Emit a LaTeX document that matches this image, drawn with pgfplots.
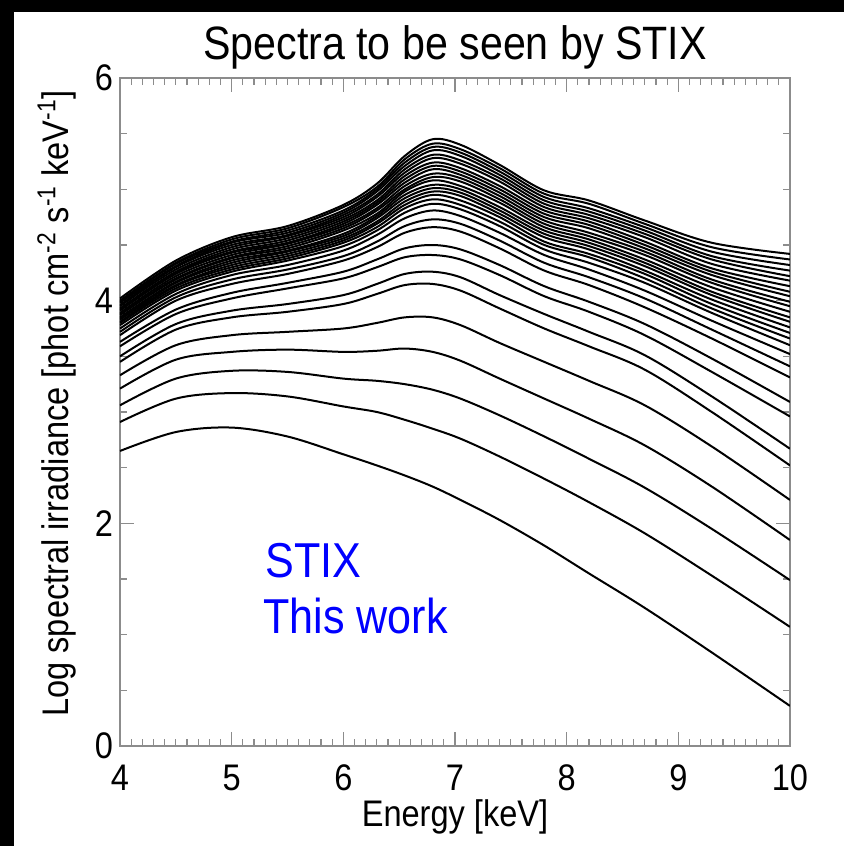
\documentclass[border=0pt]{standalone}
\usepackage{fontspec}
\setmainfont{Liberation Sans}[FakeStretch=0.88]
\usepackage{pgfplots}
\pgfplotsset{compat=1.18}
\usepackage{pgfplotstable}
\usetikzlibrary{backgrounds}

\pgfplotstableread{
x c1 c2 c3 c4 c5 c6 c7 c8 c9 c10 c11 c12 c13 c14 c15 c16 c17 c18 c19 c20 c21 c22 c23 c24 c25 c26 c27 c28 c29 c30
4    2.65 2.91 3.06 3.21 3.33 3.45 3.50 3.59 3.63 3.69 3.72 3.75 3.78 3.80 3.81 3.83 3.84 3.85 3.87 3.88 3.89 3.91 3.92 3.93 3.95 3.96 3.98 3.99 4.00 4.02
4.5  2.82 3.12 3.30 3.47 3.60 3.74 3.79 3.88 3.92 4.00 4.03 4.06 4.09 4.11 4.13 4.14 4.16 4.17 4.19 4.20 4.22 4.24 4.25 4.26 4.28 4.30 4.31 4.33 4.34 4.36
5    2.86 3.17 3.37 3.54 3.69 3.85 3.91 4.02 4.07 4.15 4.19 4.23 4.26 4.28 4.30 4.32 4.34 4.36 4.38 4.39 4.41 4.43 4.44 4.46 4.48 4.50 4.52 4.53 4.55 4.57
5.5  2.78 3.14 3.36 3.56 3.72 3.90 3.97 4.11 4.16 4.24 4.28 4.32 4.36 4.38 4.40 4.42 4.44 4.45 4.47 4.49 4.51 4.52 4.54 4.56 4.58 4.59 4.61 4.63 4.65 4.67
6    2.62 3.05 3.30 3.54 3.75 3.97 4.05 4.20 4.26 4.36 4.40 4.45 4.49 4.52 4.54 4.56 4.58 4.60 4.63 4.65 4.67 4.69 4.71 4.73 4.75 4.77 4.79 4.81 4.84 4.86
6.3  2.52 3.00 3.28 3.55 3.80 4.06 4.15 4.30 4.37 4.48 4.53 4.59 4.63 4.66 4.69 4.71 4.74 4.76 4.78 4.81 4.83 4.86 4.88 4.90 4.93 4.95 4.98 5.00 5.02 5.05
6.55 2.43 2.93 3.25 3.57 3.85 4.14 4.24 4.39 4.47 4.61 4.67 4.74 4.79 4.83 4.86 4.89 4.92 4.95 4.98 5.00 5.03 5.06 5.09 5.12 5.15 5.18 5.21 5.24 5.27 5.30
6.8  2.33 2.85 3.20 3.54 3.85 4.15 4.26 4.41 4.50 4.66 4.73 4.81 4.87 4.91 4.95 4.98 5.01 5.04 5.08 5.11 5.14 5.18 5.21 5.24 5.28 5.31 5.35 5.38 5.41 5.45
7.05 2.21 2.76 3.12 3.46 3.78 4.09 4.21 4.37 4.46 4.62 4.69 4.76 4.82 4.86 4.90 4.94 4.97 5.00 5.03 5.07 5.10 5.13 5.16 5.19 5.23 5.26 5.30 5.33 5.36 5.40
7.4  2.03 2.60 2.97 3.30 3.62 3.93 4.05 4.23 4.32 4.47 4.54 4.61 4.67 4.71 4.75 4.78 4.81 4.84 4.88 4.91 4.94 4.97 5.00 5.03 5.07 5.10 5.13 5.16 5.19 5.22
7.8  1.80 2.40 2.78 3.12 3.45 3.75 3.88 4.04 4.13 4.27 4.34 4.41 4.46 4.50 4.53 4.57 4.60 4.63 4.66 4.69 4.72 4.75 4.78 4.81 4.84 4.87 4.90 4.93 4.96 4.99
8.2  1.55 2.19 2.58 2.94 3.28 3.59 3.72 3.90 3.99 4.14 4.21 4.28 4.34 4.39 4.42 4.46 4.49 4.52 4.55 4.58 4.61 4.65 4.68 4.71 4.74 4.77 4.80 4.83 4.87 4.90
8.7  1.24 1.91 2.32 2.70 3.06 3.38 3.51 3.69 3.79 3.94 4.02 4.09 4.16 4.20 4.24 4.27 4.31 4.34 4.37 4.41 4.44 4.47 4.50 4.53 4.57 4.60 4.63 4.66 4.69 4.72
9.3  0.84 1.53 1.95 2.33 2.69 3.00 3.14 3.36 3.48 3.66 3.74 3.82 3.89 3.93 3.97 4.01 4.05 4.08 4.12 4.16 4.19 4.23 4.26 4.29 4.33 4.37 4.40 4.44 4.48 4.52
10   0.36 1.07 1.49 1.85 2.21 2.52 2.67 2.96 3.09 3.31 3.41 3.52 3.60 3.66 3.71 3.76 3.81 3.85 3.90 3.95 3.99 4.04 4.08 4.13 4.18 4.22 4.27 4.32 4.37 4.42
}\spectra

\begin{document}
\begin{tikzpicture}
\begin{axis}[
  name=ax, at={(0,0)}, anchor=south west,
  scale only axis, width=335pt, height=334pt,
  xmin=4, xmax=10, ymin=0, ymax=6,
  xtick={4,5,6,7,8,9,10}, ytick={0,2,4,6},
  minor x tick num=9, minor y tick num=3,
  major tick length=7pt, minor tick length=3.5pt,
  axis line style={black!45, line width=0.6pt},
  every tick/.style={black!45, line width=0.6pt},
  tick label style={font=\fontsize{18.5}{20}\selectfont, text=black},
  /pgf/number format/assume math mode=true,
  xticklabel style={anchor=base, yshift=-22pt},
  title={Spectra to be seen by STIX},
  title style={at={(axis description cs:0.5,1)}, anchor=base, yshift=3.5pt, font=\fontsize{23.4}{25}\selectfont},
  xlabel={Energy [keV]},
  xlabel style={at={(axis description cs:0.5,0)}, anchor=base, yshift=-40pt, font=\fontsize{18.5}{20}\selectfont},
  ylabel={Log spectral irradiance [phot cm\textsuperscript{-2} s\textsuperscript{-1} keV\textsuperscript{-1}]},
  ylabel style={at={(axis description cs:-0.0776,0.513)}, anchor=base, font=\fontsize{18.5}{20}\selectfont},
]
\pgfplotsinvokeforeach{1,...,30}{
  \addplot[black, line width=1pt, smooth, tension=0.55, no markers] table[x=x, y=c#1]{\spectra};
}
\node[anchor=base west, text=blue, font=\fontsize{24.5}{26}\selectfont, inner sep=0pt] at (axis cs:5.30,1.51) {STIX};
\node[anchor=base west, text=blue, font=\fontsize{24.5}{26}\selectfont, inner sep=0pt] at (axis cs:5.28,1.01) {This work};
\end{axis}
\begin{scope}[on background layer]
\fill[black] (-60pt,-50pt) rectangle (362pt,373pt);
\fill[white] (-53pt,-50pt) rectangle (362pt,367pt);
\end{scope}
\pgfresetboundingbox
\useasboundingbox (-60pt,-50pt) rectangle (362pt,373pt);
\end{tikzpicture}
\end{document}
